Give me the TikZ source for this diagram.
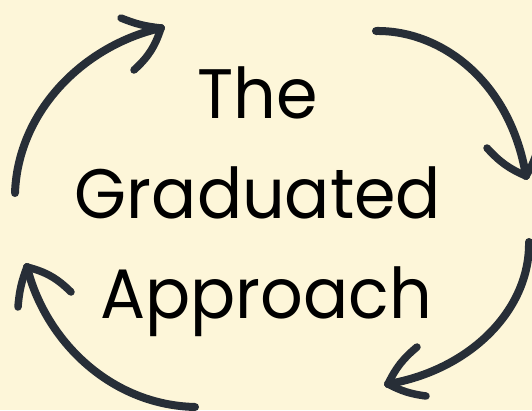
\documentclass[tikz,border=0pt]{standalone}
\usepackage{fontspec}
\setmainfont{Poppins}
\definecolor{bgc}{HTML}{FDF6D9}
\definecolor{arc}{HTML}{272E37}
\newcommand{\narrowtext}[1]{\scalebox{0.955}[1]{#1}}
\tikzset{
  curvearrow/.style={draw=arc, line width=8pt, line cap=round},
  barbline/.style={draw=arc, line width=7.5pt, line cap=round},
  title/.style={anchor=base, inner sep=0pt, font=\fontsize{70}{70}\selectfont, text=black}
}
\begin{document}
\begin{tikzpicture}[x=1pt,y=-1pt]
\fill[bgc] (0,0) rectangle (532,410);
\useasboundingbox (0,0) rectangle (532,410);
\clip (0,0) rectangle (532,410);
% text
\node[title] (t1) at (258,118) {\narrowtext{The}};
\node[title] (t2) at (258,218) {\narrowtext{Graduated}};
\node[title] (t3) at (266,318) {\narrowtext{Approach}};
% top-left arrow
\coordinate (a1s) at (15,193);
\coordinate (a1t) at (161,28);
\draw[curvearrow] (a1s) .. controls (18,110) and (85,45) .. (a1t);
\draw[barbline] (a1t) to[bend left=8] (121,18);
\draw[barbline] (a1t) to[bend left=15] (134,70);
% top-right arrow
\coordinate (a2s) at (376,31);
\coordinate (a2t) at (526,176);
\draw[curvearrow] (a2s) .. controls (440,30) and (510,80) .. (a2t);
\draw[barbline] (a2t) to[bend left=12] (487,148);
\draw[barbline] (a2t) to[bend right=10] (540,138);
% bottom-right arrow
\coordinate (a3s) at (529,242);
\coordinate (a3t) at (388,384);
\draw[curvearrow] (a3s) .. controls (530,310) and (470,370) .. (a3t);
\draw[barbline] (a3t) to[bend left=12] (417,347);
\draw[barbline] (a3t) to[bend right=10] (426,396);
% bottom-left arrow
\coordinate (a4s) at (195,407);
\coordinate (a4t) at (27,267);
\draw[curvearrow] (a4s) .. controls (110,405) and (45,340) .. (a4t);
\draw[barbline] (a4t) to[bend right=8] (18,307);
\draw[barbline] (a4t) to[bend left=15] (71,292);
\end{tikzpicture}
\end{document}
